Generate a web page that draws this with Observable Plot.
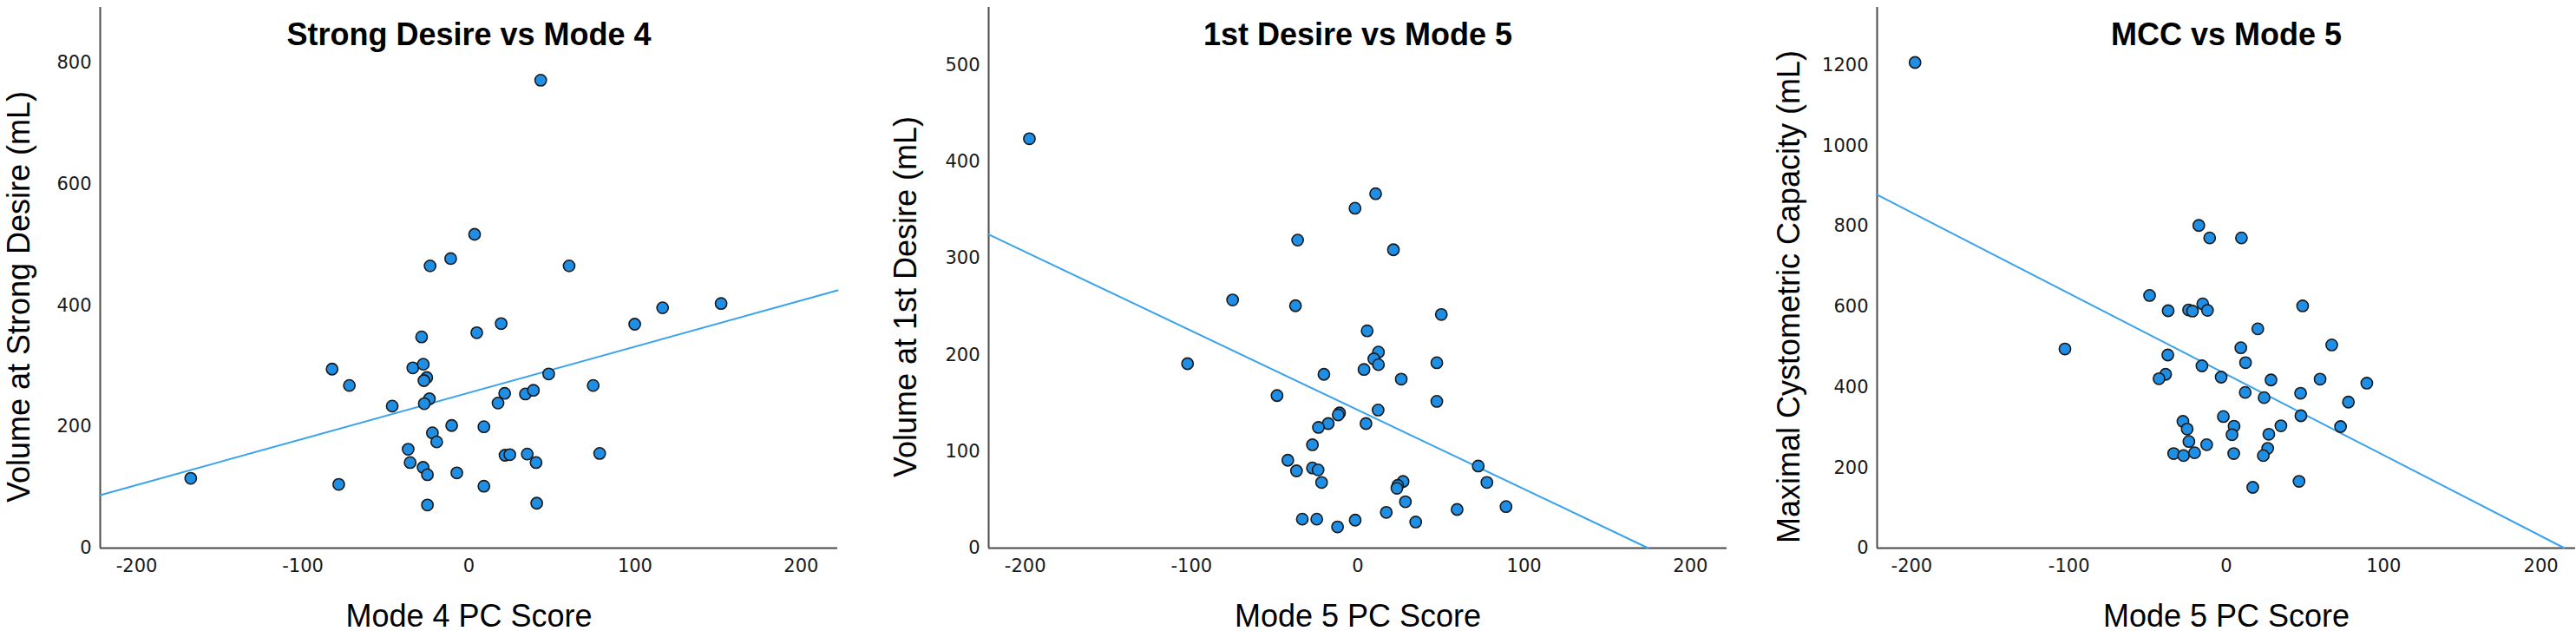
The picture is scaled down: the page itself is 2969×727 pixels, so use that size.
<!DOCTYPE html>
<html><head><meta charset="utf-8">
<script src="https://cdn.jsdelivr.net/npm/d3@7"></script>
<script src="https://cdn.jsdelivr.net/npm/@observablehq/plot@0.6"></script>
<style>
body{margin:0;background:#fff;}
#wrap{display:flex;width:2969px;height:727px;background:#fff;}
#wrap svg{display:block;flex:none;}
</style></head><body><div id="wrap"></div>
<script>
// ---- shared axis settings ----
const xDomain = [-222, 222];
const xTicks = [-200, -100, 0, 100, 200];

// ---- Panel 1: Strong Desire vs Mode 4 ----
const sdTitle = "Strong Desire vs Mode 4";
const sdXLabel = "Mode 4 PC Score";
const sdYLabel = "Volume at Strong Desire (mL)";
const sdX = [43.2, 3.4, -11, -23.4, 60.3, 151.8, 116.6, 99.8, 19.4, 4.7, -28.5, -82.4, -33.8, -27.5, -25.4, -27.1, -72.0, 48.0, 74.8, 21.5, 34.0, 38.8, -23.8, -26.9, 17.5, -46.2, -10.4, 9.0, -22.0, -19.4, -36.6, -35.4, -27.6, -25.0, -7.3, 21.7, 24.6, 35.1, 40.4, 78.7, -167.5, -78.4, 9.0, -25.0, 40.8];
const sdY = [771, 517, 477, 465, 465, 403, 396, 369, 370, 355, 348, 295, 297, 303, 281, 276, 268, 287, 268, 255, 254, 260, 246, 238, 239, 234, 202, 200, 190, 175, 163, 141, 133, 121, 124, 153, 154, 155, 141, 156, 115, 105, 102, 71, 74];
const sdYDomain = [0, 891];
const sdYTicks = [0, 200, 400, 600, 800];
const sdFit = {intercept: 256, slope: 0.76};

// ---- Panel 2: 1st Desire vs Mode 5 ----
const fdTitle = "1st Desire vs Mode 5";
const fdXLabel = "Mode 5 PC Score";
const fdYLabel = "Volume at 1st Desire (mL)";
const fdX = [-197.5, 10.7, -1.7, -36.2, 21.4, -75.3, -37.5, 50.2, 5.6, -102.4, 12.4, 9.6, 12.4, 3.7, 47.5, -20.4, 26.1, -48.6, 47.5, 12.2, -11.0, -11.8, -17.8, 4.9, -23.7, -27.3, -42.1, -36.9, -27.3, -23.9, 72.4, -21.8, 27.2, 24.0, 23.5, 77.6, 28.6, 89.1, 59.7, 17.1, -33.4, -24.7, -1.6, 34.8, -12.2];
const fdY = [424, 367, 352, 319, 309, 257, 251, 242, 225, 191, 203, 196, 190, 185, 192, 180, 175, 158, 152, 143, 140, 138, 129, 129, 125, 107, 91, 80, 83, 81, 85, 68, 69, 65, 62, 68, 48, 43, 40, 37, 30, 30, 29, 27, 22];
const fdYDomain = [0, 560];
const fdYTicks = [0, 100, 200, 300, 400, 500];
const fdFit = {intercept: 143, slope: -0.819};

// ---- Panel 3: MCC vs Mode 5 ----
const mccTitle = "MCC vs Mode 5";
const mccXLabel = "Mode 5 PC Score";
const mccYLabel = "Maximal Cystometric Capacity (mL)";
const mccX = [-197.9, -17.5, -10.6, 9.6, -48.8, 48.5, -15.0, -37.0, -24.0, -21.5, -12.0, 20.0, 67.0, -102.6, 9.2, -37.2, 12.2, -15.5, -38.6, -42.8, -3.3, 28.4, 59.6, 89.3, 12.0, 47.2, 24.0, 77.6, -1.9, 47.4, -27.6, -24.9, 4.9, 34.7, 72.6, 3.6, 27.0, -23.8, -12.5, 26.3, -33.5, -27.2, -20.2, 4.7, 23.5, 46.2, 16.8];
const mccY = [1207, 802, 771, 771, 628, 602, 607, 590, 592, 589, 591, 545, 505, 495, 498, 480, 461, 453, 432, 421, 425, 418, 420, 410, 387, 385, 374, 363, 327, 329, 315, 296, 303, 304, 302, 282, 283, 265, 257, 248, 235, 230, 237, 235, 230, 166, 151];
const mccYDomain = [0, 1344];
const mccYTicks = [0, 200, 400, 600, 800, 1000, 1200];
const mccFit = {intercept: 432, slope: -2.01};

const FONT = "'Liberation Sans', Arial, Helvetica, sans-serif";
const TICKFONT = "'DejaVu Sans', Verdana, sans-serif";
const dotFill = "#1f8fe6";
const dotStroke = "#1a1a1a";
const lineColor = "#3aa3ec";
const axisColor = "#4a4a4a";

function panel({title, xLabel, yLabel, xs, ys, yDomain, yTicks, fit, width, marginRight, yLabelDx}) {
  const data = xs.map((x, i) => ({x, y: ys[i]}));
  const [x0, x1] = xDomain;
  const f = (x) => fit.intercept + fit.slope * x;
  let xe = x1;
  if (f(x1) < 0) xe = -fit.intercept / fit.slope;
  const fitData = [{x: x0, y: f(x0)}, {x: xe, y: f(xe)}];
  return Plot.plot({
    width, height: 727,
    marginLeft: 115, marginRight, marginTop: 8, marginBottom: 96,
    style: {fontFamily: FONT, background: "#fff", overflow: "visible", color: "#111"},
    x: {domain: xDomain},
    y: {domain: yDomain},
    marks: [
      Plot.axisX({ticks: xTicks, tickSize: 0, tickPadding: 13, fontSize: 21, fontFamily: TICKFONT, label: null, fill: "#1a1a1a", tickFormat: d => String(d)}),
      Plot.axisY({ticks: yTicks, tickSize: 0, tickPadding: 10, fontSize: 21, fontFamily: TICKFONT, label: null, fill: "#1a1a1a", tickFormat: d => String(d)}),
      Plot.ruleY([yDomain[0]], {stroke: axisColor, strokeWidth: 2}),
      Plot.ruleX([x0], {stroke: axisColor, strokeWidth: 2}),
      Plot.line(fitData, {x: "x", y: "y", stroke: lineColor, strokeWidth: 2}),
      Plot.dot(data, {x: "x", y: "y", r: 6.6, fill: dotFill, stroke: dotStroke, strokeWidth: 1.6, fillOpacity: 1}),
      Plot.text([title], {text: d => d, frameAnchor: "top", lineAnchor: "middle", textAnchor: "middle", dy: 32, fontSize: 36, fontWeight: "bold", fill: "#000"}),
      Plot.text([xLabel], {text: d => d, frameAnchor: "bottom", lineAnchor: "middle", textAnchor: "middle", dy: 79, fontSize: 36, fill: "#000"}),
      Plot.text([yLabel], {text: d => d, frameAnchor: "left", lineAnchor: "middle", textAnchor: "middle", dx: yLabelDx, dy: 22, rotate: -90, fontSize: 36, fill: "#000"})
    ]
  });
}

const wrap = document.getElementById("wrap");
wrap.append(panel({title: sdTitle, xLabel: sdXLabel, yLabel: sdYLabel, xs: sdX, ys: sdY, yDomain: sdYDomain, yTicks: sdYTicks, fit: sdFit, width: 1024, marginRight: 59, yLabelDx: -93}));
wrap.append(panel({title: fdTitle, xLabel: fdXLabel, yLabel: fdYLabel, xs: fdX, ys: fdY, yDomain: fdYDomain, yTicks: fdYTicks, fit: fdFit, width: 1024, marginRight: 58, yLabelDx: -95}));
wrap.append(panel({title: mccTitle, xLabel: mccXLabel, yLabel: mccYLabel, xs: mccX, ys: mccY, yDomain: mccYDomain, yTicks: mccYTicks, fit: mccFit, width: 921, marginRight: 1, yLabelDx: -101}));
</script>
</body></html>
